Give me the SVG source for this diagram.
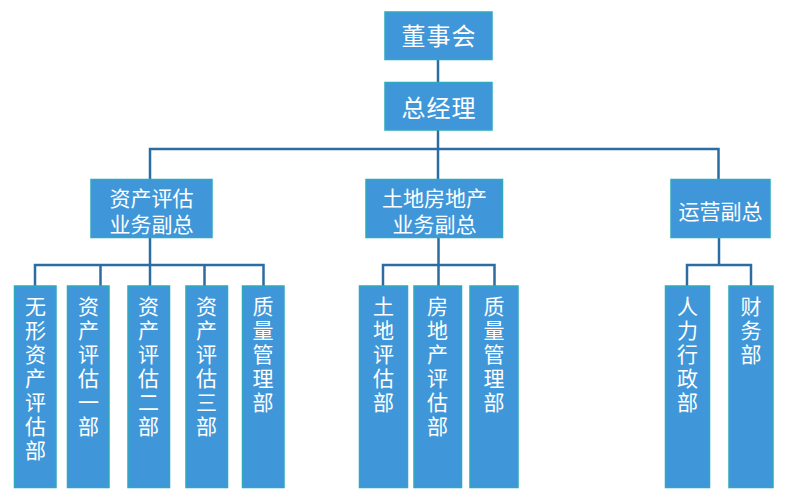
<svg xmlns="http://www.w3.org/2000/svg" width="800" height="504" viewBox="0 0 800 504">
<style>
.box{fill:#3f97d9;stroke:#2fa9bd;stroke-width:1.5}
.t{fill:#ffffff;font-family:"Noto Sans CJK SC","Noto Sans",sans-serif;text-anchor:middle}
.t1{font-size:24px;letter-spacing:1px}
.t2{font-size:21px}
.t3{font-size:21px}
.ln{fill:none;stroke:#2b6ca3;stroke-width:2.5;stroke-linejoin:miter}
</style>
<rect width="800" height="504" fill="#ffffff"/>
<g id="connectors">
<path class="ln" d="M438 59V82"/>
<path class="ln" d="M438 130V149M150 179V149H718.5V179M438 149V179"/>
<path class="ln" d="M150 238V265M35 286V265H263.5V286M100.5 265V286M150 265V286M204.5 265V286"/>
<path class="ln" d="M438.5 238V265M383 286V265H494.5V286M438.5 265V286"/>
<path class="ln" d="M719 238V265M687 286V265H751V286"/>
</g>
<g id="n-board"><rect class="box" x="385" y="12" width="107" height="47.5"/><text class="t t1" x="439" y="45">董事会</text></g>
<g id="n-gm"><rect class="box" x="385" y="82.5" width="107" height="47.5"/><text class="t t1" x="439" y="116.5">总经理</text></g>
<g id="n-vp1"><rect class="box" x="91" y="179.5" width="121" height="58"/><text class="t t2" x="151.5" y="205.5">资产评估</text><text class="t t2" x="151.5" y="231.5">业务副总</text></g>
<g id="n-vp2"><rect class="box" x="366" y="179.5" width="136.5" height="58"/><text class="t t2" x="434.5" y="205.5">土地房地产</text><text class="t t2" x="434.5" y="231.5">业务副总</text></g>
<g id="n-vp3"><rect class="box" x="671" y="179.5" width="99" height="58"/><text class="t t2" x="720.5" y="219">运营副总</text></g>
<g id="n-a1"><rect class="box" x="14.5" y="286" width="41.5" height="201.5"/><text class="t t3" x="35.5" y="314"><tspan x="35.5">无</tspan><tspan x="35.5" dy="24">形</tspan><tspan x="35.5" dy="24">资</tspan><tspan x="35.5" dy="24">产</tspan><tspan x="35.5" dy="24">评</tspan><tspan x="35.5" dy="24">估</tspan><tspan x="35.5" dy="24">部</tspan></text></g>
<g id="n-a2"><rect class="box" x="67.5" y="286" width="41.5" height="201.5"/><text class="t t3" x="88.5" y="314"><tspan x="88.5">资</tspan><tspan x="88.5" dy="24">产</tspan><tspan x="88.5" dy="24">评</tspan><tspan x="88.5" dy="24">估</tspan><tspan x="88.5" dy="24">一</tspan><tspan x="88.5" dy="24">部</tspan></text></g>
<g id="n-a3"><rect class="box" x="128" y="286" width="41.5" height="201.5"/><text class="t t3" x="148.5" y="314"><tspan x="148.5">资</tspan><tspan x="148.5" dy="24">产</tspan><tspan x="148.5" dy="24">评</tspan><tspan x="148.5" dy="24">估</tspan><tspan x="148.5" dy="24">二</tspan><tspan x="148.5" dy="24">部</tspan></text></g>
<g id="n-a4"><rect class="box" x="186" y="286" width="41.5" height="201.5"/><text class="t t3" x="206.5" y="314"><tspan x="206.5">资</tspan><tspan x="206.5" dy="24">产</tspan><tspan x="206.5" dy="24">评</tspan><tspan x="206.5" dy="24">估</tspan><tspan x="206.5" dy="24">三</tspan><tspan x="206.5" dy="24">部</tspan></text></g>
<g id="n-a5"><rect class="box" x="242.5" y="286" width="41.5" height="201.5"/><text class="t t3" x="263" y="314"><tspan x="263">质</tspan><tspan x="263" dy="24">量</tspan><tspan x="263" dy="24">管</tspan><tspan x="263" dy="24">理</tspan><tspan x="263" dy="24">部</tspan></text></g>
<g id="n-b1"><rect class="box" x="359.5" y="286" width="48" height="201.5"/><text class="t t3" x="383.5" y="314"><tspan x="383.5">土</tspan><tspan x="383.5" dy="24">地</tspan><tspan x="383.5" dy="24">评</tspan><tspan x="383.5" dy="24">估</tspan><tspan x="383.5" dy="24">部</tspan></text></g>
<g id="n-b2"><rect class="box" x="414" y="286" width="47.5" height="201.5"/><text class="t t3" x="437.5" y="314"><tspan x="437.5">房</tspan><tspan x="437.5" dy="24">地</tspan><tspan x="437.5" dy="24">产</tspan><tspan x="437.5" dy="24">评</tspan><tspan x="437.5" dy="24">估</tspan><tspan x="437.5" dy="24">部</tspan></text></g>
<g id="n-b3"><rect class="box" x="470" y="286" width="48" height="201.5"/><text class="t t3" x="494" y="314"><tspan x="494">质</tspan><tspan x="494" dy="24">量</tspan><tspan x="494" dy="24">管</tspan><tspan x="494" dy="24">理</tspan><tspan x="494" dy="24">部</tspan></text></g>
<g id="n-c1"><rect class="box" x="665.5" y="286" width="44" height="201.5"/><text class="t t3" x="687.5" y="314"><tspan x="687.5">人</tspan><tspan x="687.5" dy="24">力</tspan><tspan x="687.5" dy="24">行</tspan><tspan x="687.5" dy="24">政</tspan><tspan x="687.5" dy="24">部</tspan></text></g>
<g id="n-c2"><rect class="box" x="729" y="286" width="44" height="201.5"/><text class="t t3" x="751" y="314"><tspan x="751">财</tspan><tspan x="751" dy="24">务</tspan><tspan x="751" dy="24">部</tspan></text></g>
</svg>
